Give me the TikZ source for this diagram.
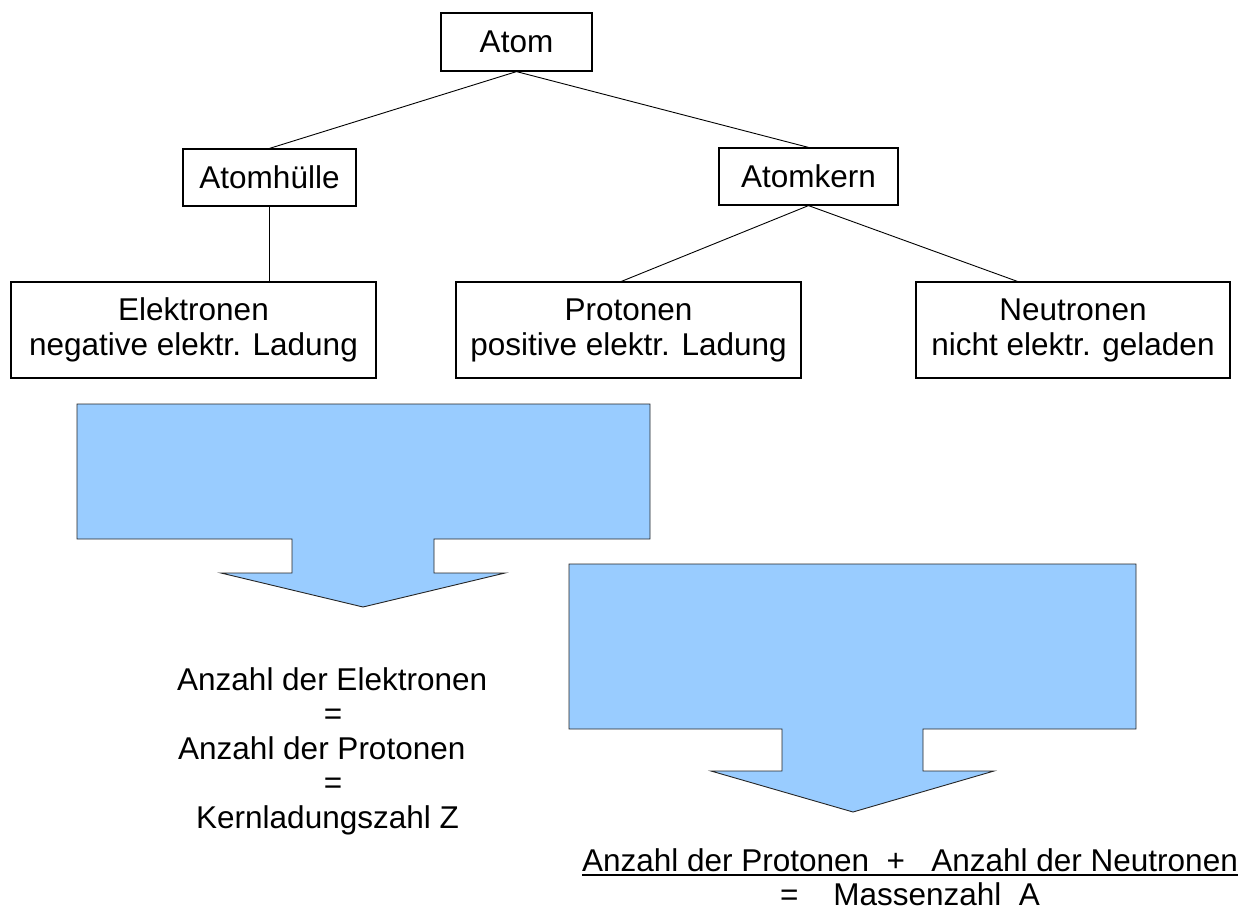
\documentclass[tikz,border=0pt]{standalone}
\usepackage{fontspec}
\setmainfont{Liberation Sans}
\definecolor{arrowblue}{RGB}{153,204,255}
\begin{document}
\begin{tikzpicture}[x=1pt,y=-1pt,
  box/.style={draw, line width=1.2pt, inner sep=0pt, align=center,
              font=\fontsize{31.5}{35}\selectfont},
  link/.style={line width=0.9pt},
  blockarrow/.style={fill=arrowblue, draw=black!85, line width=0.9pt, line join=miter},
  txt/.style={inner sep=0pt, font=\fontsize{31.5}{35}\selectfont}]
\useasboundingbox (0,0) rectangle (1253,913);

% tree boxes
\node[box, minimum width=151pt, minimum height=58pt] (atom) at (516.5,42) {Atom};
\node[box, minimum width=173pt, minimum height=57pt] (huelle) at (269.5,177.5) {Atomhülle};
\node[box, minimum width=179pt, minimum height=57pt] (kern) at (808.5,176.5) {Atomkern};
\node[box, minimum width=365pt, minimum height=96pt] (elek) at (193.5,330) {Elektronen\\negative elektr. Ladung};
\node[box, minimum width=345pt, minimum height=96pt] (prot) at (628.5,330) {Protonen\\positive elektr. Ladung};
\node[box, minimum width=314pt, minimum height=96pt] (neut) at (1073,330) {Neutronen\\nicht elektr. geladen};

% connectors
\draw[link] (atom.south) -- (huelle.north);
\draw[link] (atom.south) -- (kern.north);
\draw[link] (huelle.south) -- (huelle.south |- elek.north);
\draw[link] (kern.south) -- ([xshift=166pt]prot.north west);
\draw[link] (kern.south) -- ([xshift=102pt]neut.north west);

% block arrows
\draw[blockarrow] (77,404) -- (650,404) -- (650,539) -- (434,539) -- (434,573)
  -- (505,573) -- (363,607) -- (221,573) -- (292,573) -- (292,539) -- (77,539) -- cycle;
\draw[blockarrow] (569,564) -- (1136,564) -- (1136,729) -- (923,729) -- (923,771)
  -- (994,771) -- (853,812) -- (711,771) -- (782,771) -- (782,729) -- (569,729) -- cycle;

% left result text
\node[txt, anchor=base west] (l1) at (177,690) {Anzahl der Elektronen};
\node[txt, anchor=base] (l2) at (333,724.5) {=};
\node[txt, anchor=base west] (l3) at (178,759) {Anzahl der Protonen};
\node[txt, anchor=base] (l4) at (333,793.5) {=};
\node[txt, anchor=base west] (l5) at (196,828) {Kernladungszahl Z};

% right result text
\node[txt, anchor=base] (sum) at (910,871) {Anzahl der Protonen\ \ +\ \ \ Anzahl der Neutronen};
\draw[line width=1.2pt] ([yshift=-4pt]sum.base west) -- ([yshift=-4pt]sum.base east);
\node[txt, anchor=base] (mass) at (910,905) {=\ \ \ \ Massenzahl\ \ A};
\end{tikzpicture}
\end{document}
